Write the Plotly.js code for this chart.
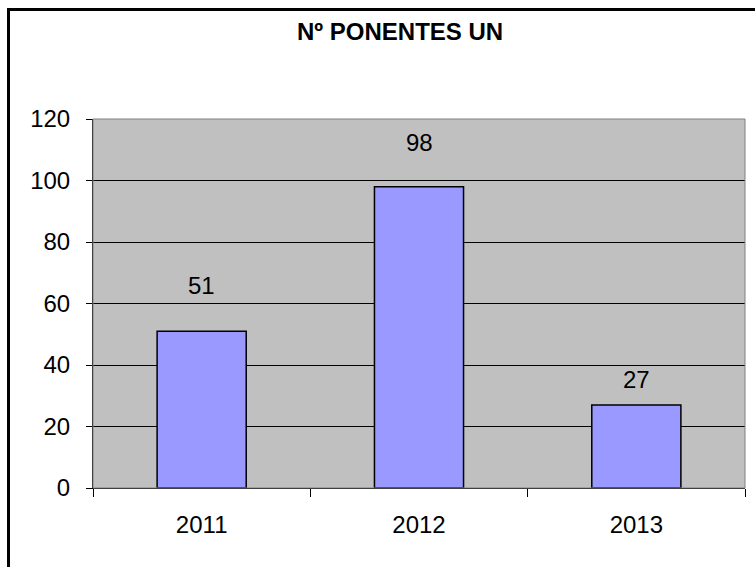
<!DOCTYPE html>
<html>
<head>
<meta charset="utf-8">
<script src="https://cdn.plot.ly/plotly-3.0.1.min.js"></script>
<style>
  html,body{margin:0;padding:0;background:#fff;overflow:hidden}
  #chart{position:absolute;left:0;top:0;width:755px;height:567px}
  #frame{position:absolute;left:7px;top:8px;width:800px;height:600px;border:3px solid #000;pointer-events:none}
</style>
</head>
<body>
<div id="chart"></div>
<div id="frame"></div>
<script>
const years  = ["2011", "2012", "2013"];
const ponentes = [51, 98, 27];
const chartTitle = "Nº PONENTES UN";

(function(){
  const F = "Liberation Sans, Arial, sans-serif";
  // label offsets above bar tops, as placed in the original
  const lift = [30, 29, 10];

  const trace = {
    type:"bar", x:years, y:ponentes, width:0.41,
    marker:{color:"#9999FF", line:{color:"#000", width:1.5}},
    hoverinfo:"skip"
  };

  // numeric-looking category names would be read as indices, so place by index
  const notes = years.map((yr,i)=>({
    x:i, y:ponentes[i], xref:"x", yref:"y", text:String(ponentes[i]),
    showarrow:false, yanchor:"bottom", yshift:lift[i],
    font:{family:F, size:24, color:"#000"}
  }));

  const layout = {
    width:755, height:567,
    paper_bgcolor:"#fff", plot_bgcolor:"#C0C0C0",
    margin:{l:93, r:10, t:119, b:79},
    showlegend:false,
    font:{family:F, size:24, color:"#000"},
    title:{text:"<b>"+chartTitle+"</b>", x:0.471, xref:"paper", xanchor:"center",
      y:1-32/567, yanchor:"middle", font:{family:F, size:24, color:"#000"}},
    xaxis:{type:"category", range:[-0.5, years.length-0.5], showgrid:false, showline:true, linecolor:"#000", linewidth:1,
      ticks:"outside", tickson:"boundaries", ticklen:8, tickcolor:"#000", tickwidth:1,
      tickangle:0, ticklabelstandoff:15, tickfont:{family:F, size:24}, fixedrange:true},
    yaxis:{range:[0,120], dtick:20, showgrid:true, gridcolor:"#000", gridwidth:1,
      showline:true, linecolor:"#000", linewidth:1, zeroline:false,
      ticks:"outside", ticklen:6, tickcolor:"#000", tickwidth:1, ticklabelstandoff:11,
      tickfont:{family:F, size:24}, fixedrange:true},
    shapes:[{type:"rect", xref:"paper", yref:"paper", x0:0, x1:1, y0:0, y1:1,
      line:{color:"#808080", width:1}, fillcolor:"rgba(0,0,0,0)", layer:"above"}],
    annotations:notes
  };

  Plotly.newPlot("chart", [trace], layout, {displayModeBar:false, staticPlot:true});
})();
</script>
</body>
</html>
